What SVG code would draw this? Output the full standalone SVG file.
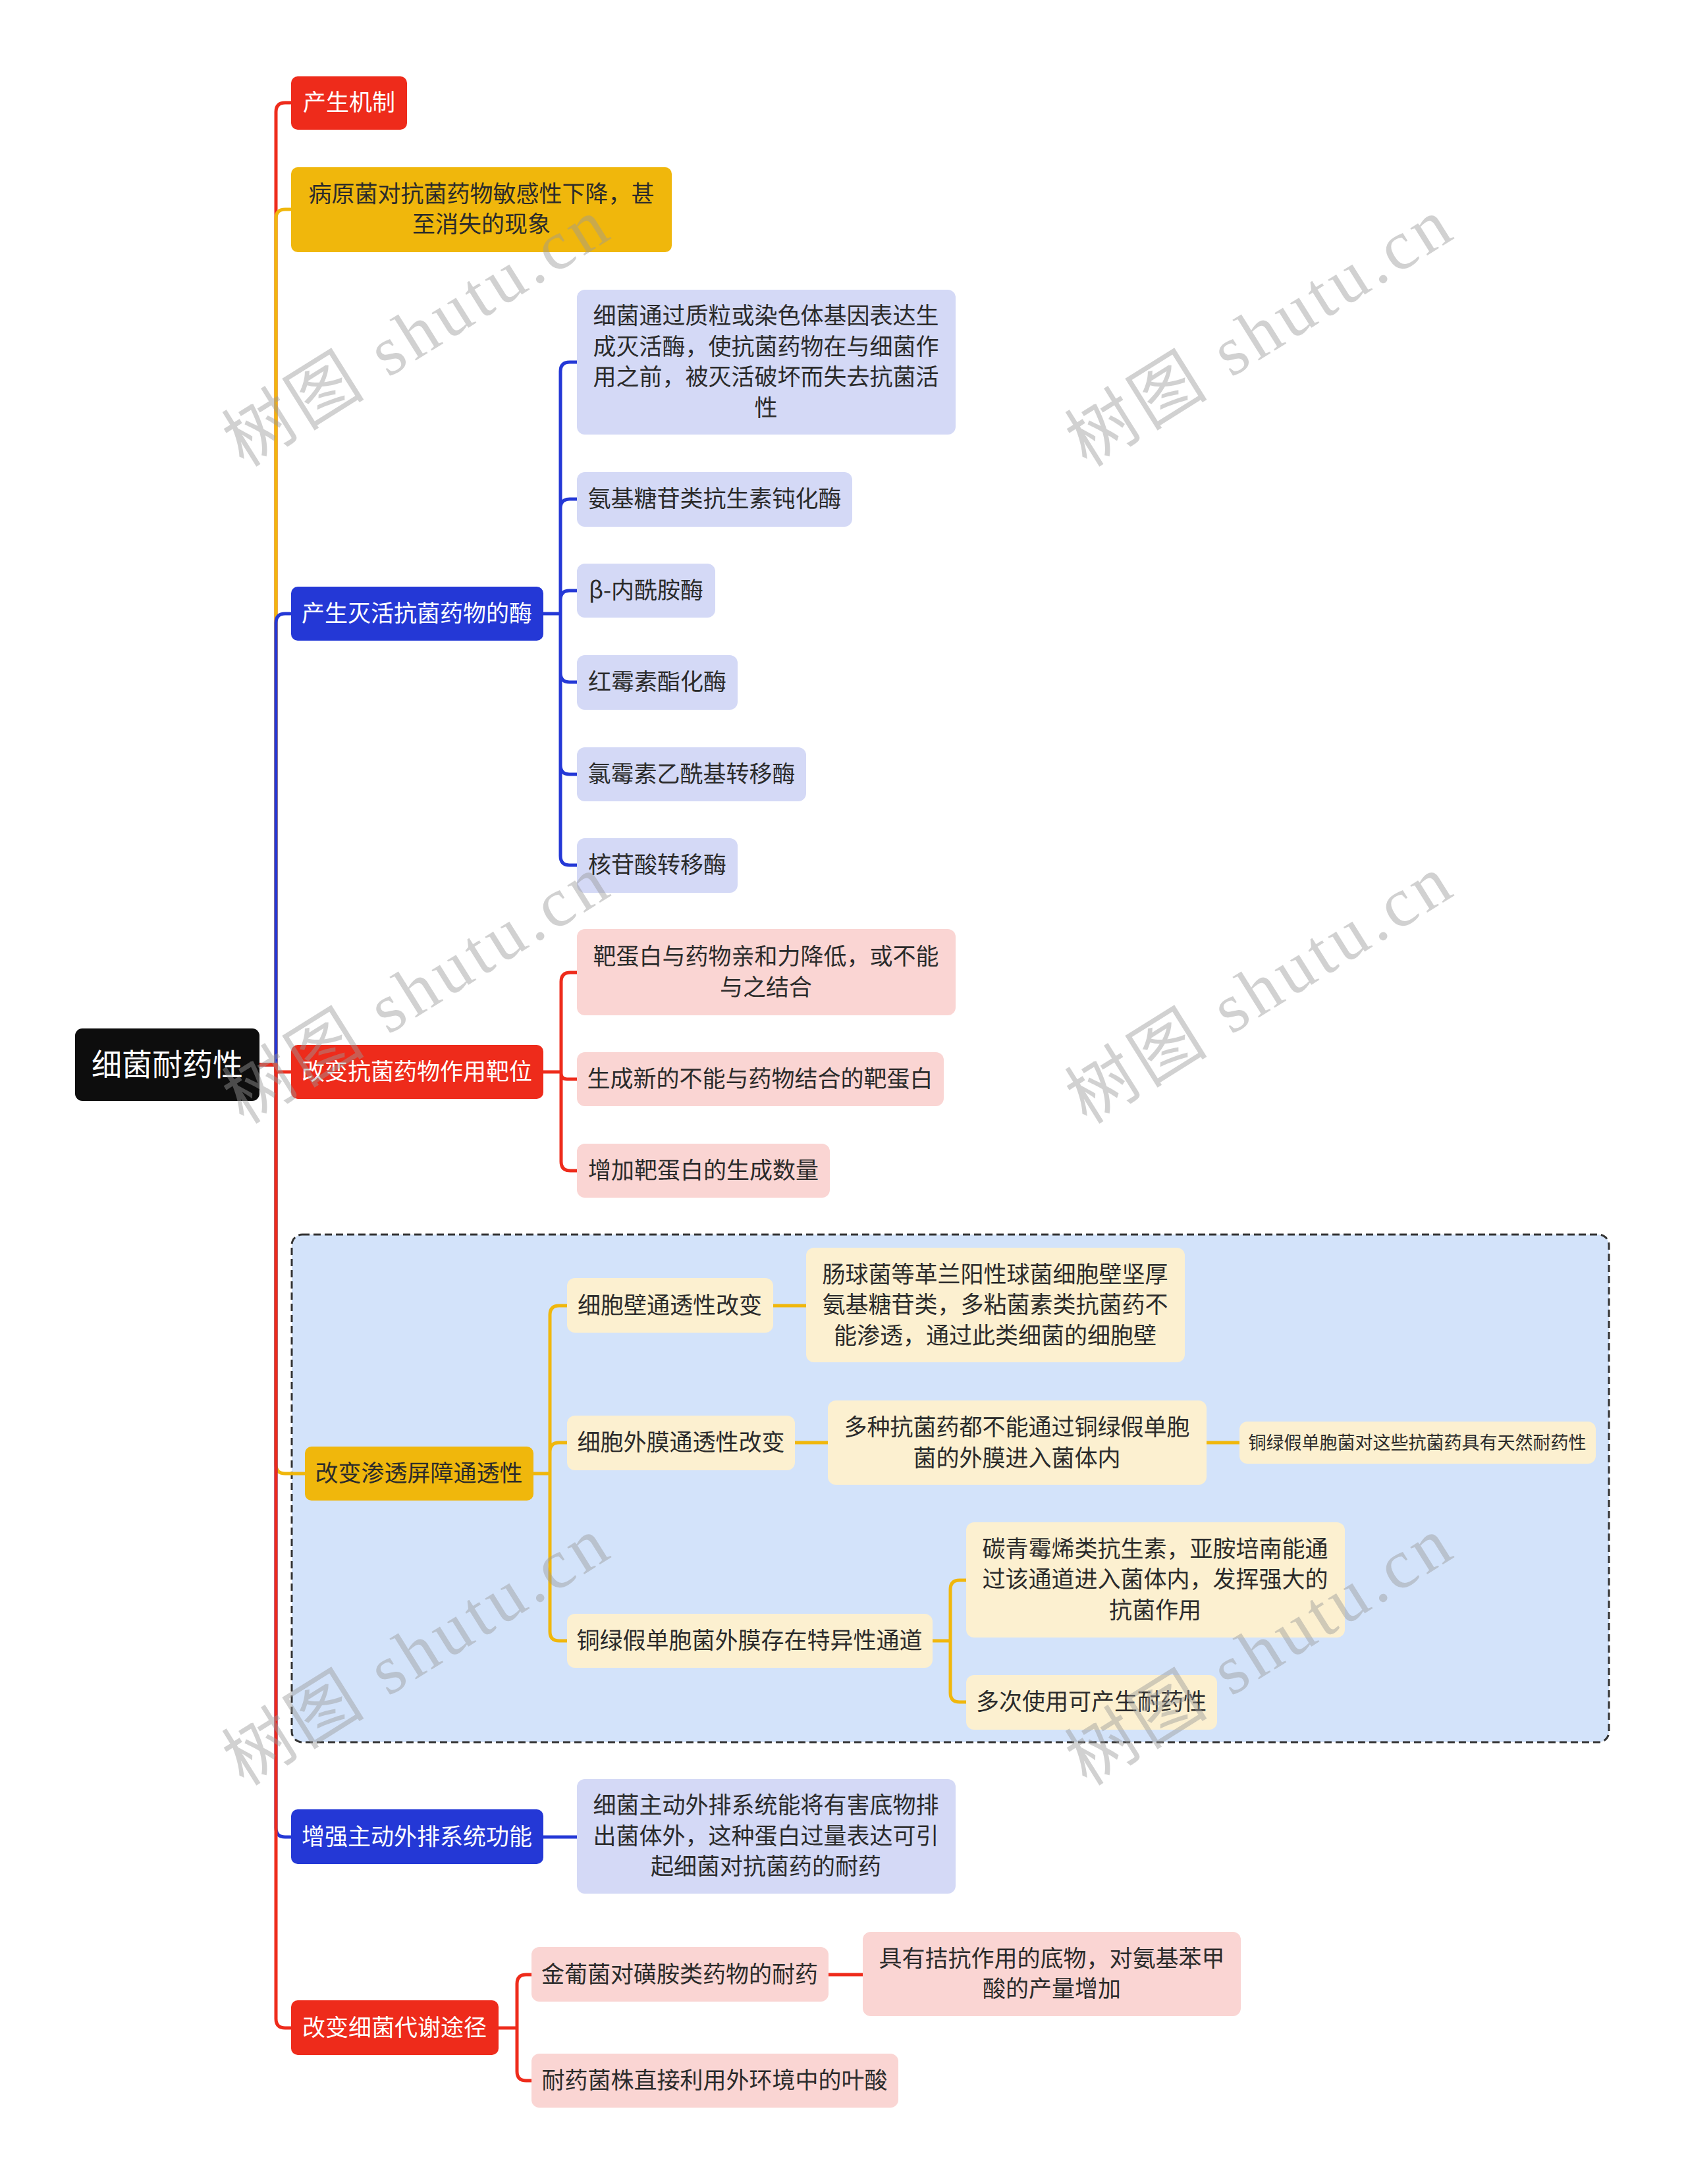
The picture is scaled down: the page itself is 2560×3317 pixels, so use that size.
<svg xmlns="http://www.w3.org/2000/svg" width="2560" height="3317" viewBox="0 0 2560 3317">
<style>
text{font-family:"Noto Sans CJK SC","Noto Sans",sans-serif;font-size:35px;text-anchor:middle}
.wt{fill:#ffffff}
.dk{fill:#2b2b2b}
.red{fill:#EE2B1B}
.blue{fill:#2438D6}
.yel{fill:#F0B70C}
.lav{fill:#D4D9F6}
.pink{fill:#FAD5D3}
.crm{fill:#FCF0D0}
.c{fill:none;stroke-width:5;stroke-linecap:round;stroke-linejoin:round}
.cr{stroke:#EE2B1B}
.cb{stroke:#2438D6}
.cy{stroke:#F0B70C}
.wm{font-family:"Liberation Serif","Noto Sans CJK SC",serif;font-size:106px;fill:#9a9a9a;fill-opacity:0.45}
</style>
<rect width="2560" height="3317" fill="#ffffff"/>
<rect id="boundary" x="443" y="1875" width="2000" height="771" rx="16" fill="#D3E3FA" stroke="#333" stroke-width="3" stroke-dasharray="11 6"/>
<g id="connectors">
<path class="c cr" d="M394,1617 H419 V170 Q419,156 433,156 H442"/>
<path class="c cy" d="M394,1617 H419 V332 Q419,318 433,318 H442"/>
<path class="c cb" d="M394,1617 H419 V946 Q419,932 433,932 H442"/>
<path class="c cy" d="M394,1617 H419 V2224 Q419,2238 433,2238 H463"/>
<path class="c cb" d="M394,1617 H419 V2776 Q419,2790 433,2790 H442"/>
<path class="c cr" d="M394,1617 H419 V1628 H442"/>
<path class="c cr" d="M394,1617 H419 V3066 Q419,3080 433,3080 H442"/>
<path class="c cb" d="M825,932 H851 M851,932 V564 Q851,550 865,550 H876 M851,932 V772 Q851,758 865,758 H876 M851,932 V911 Q851,897 865,897 H876 M851,932 V1022 Q851,1036 865,1036 H876 M851,932 V1162 Q851,1176 865,1176 H876 M851,932 V1300 Q851,1314 865,1314 H876"/>
<path class="c cr" d="M825,1628 H852 M852,1628 V1491 Q852,1477 866,1477 H876 M852,1628 V1630 Q852,1639 861,1639 H876 M852,1628 V1764 Q852,1778 866,1778 H876"/>
<path class="c cy" d="M810,2238 H835 M835,2238 V1997 Q835,1983 849,1983 H861 M835,2238 V2205 Q835,2191 849,2191 H861 M835,2238 V2478 Q835,2492 849,2492 H861 M1174,1983 H1224 M1207,2191 H1257 M1832,2191 H1882 M1416,2492 H1443 M1443,2492 V2414 Q1443,2400 1457,2400 H1467 M1443,2492 V2571 Q1443,2585 1457,2585 H1467"/>
<path class="c cb" d="M825,2790 H876"/>
<path class="c cr" d="M757,3080 H785 M785,3080 V3013 Q785,2999 799,2999 H807 M785,3080 V3146 Q785,3160 799,3160 H807 M1258,2999 H1310"/>
</g>
<g id="root"><rect x="114" y="1562" width="280" height="110" rx="11" fill="#0D0D0D"/><text class="wt" x="254" y="1633" style="font-size:46px">细菌耐药性</text></g>
<g id="n1"><rect class="red" x="442" y="116" width="176" height="81" rx="10"/><text class="wt" x="530" y="168">产生机制</text></g>
<g id="n2"><rect class="yel" x="442" y="254" width="578" height="129" rx="10"/><text class="dk" x="731" y="307">病原菌对抗菌药物敏感性下降，甚</text><text class="dk" x="731" y="353">至消失的现象</text></g>
<g id="n3"><rect class="blue" x="442" y="891" width="383" height="82" rx="10"/><text class="wt" x="633" y="944">产生灭活抗菌药物的酶</text></g>
<g id="n3a"><rect class="lav" x="876" y="440" width="575" height="220" rx="12"/><text class="dk" x="1163" y="492">细菌通过质粒或染色体基因表达生</text><text class="dk" x="1163" y="539">成灭活酶，使抗菌药物在与细菌作</text><text class="dk" x="1163" y="585">用之前，被灭活破坏而失去抗菌活</text><text class="dk" x="1163" y="632">性</text></g>
<g id="n3b"><rect class="lav" x="876" y="717" width="418" height="83" rx="12"/><text class="dk" x="1085" y="770">氨基糖苷类抗生素钝化酶</text></g>
<g id="n3c"><rect class="lav" x="876" y="856" width="210" height="82" rx="12"/><text class="dk" x="981" y="909">β-内酰胺酶</text></g>
<g id="n3d"><rect class="lav" x="876" y="995" width="244" height="83" rx="12"/><text class="dk" x="998" y="1048">红霉素酯化酶</text></g>
<g id="n3e"><rect class="lav" x="876" y="1135" width="348" height="82" rx="12"/><text class="dk" x="1050" y="1188">氯霉素乙酰基转移酶</text></g>
<g id="n3f"><rect class="lav" x="876" y="1273" width="244" height="83" rx="12"/><text class="dk" x="998" y="1326">核苷酸转移酶</text></g>
<g id="n4"><rect class="red" x="442" y="1587" width="383" height="82" rx="10"/><text class="wt" x="633" y="1640">改变抗菌药物作用靶位</text></g>
<g id="n4a"><rect class="pink" x="876" y="1411" width="575" height="131" rx="12"/><text class="dk" x="1163" y="1465">靶蛋白与药物亲和力降低，或不能</text><text class="dk" x="1163" y="1512">与之结合</text></g>
<g id="n4b"><rect class="pink" x="876" y="1598" width="557" height="82" rx="12"/><text class="dk" x="1154" y="1651">生成新的不能与药物结合的靶蛋白</text></g>
<g id="n4c"><rect class="pink" x="876" y="1737" width="384" height="82" rx="12"/><text class="dk" x="1068" y="1790">增加靶蛋白的生成数量</text></g>
<g id="n5"><rect class="yel" x="463" y="2197" width="347" height="82" rx="10"/><text class="dk" x="636" y="2250">改变渗透屏障通透性</text></g>
<g id="n5a"><rect class="crm" x="861" y="1941" width="313" height="83" rx="12"/><text class="dk" x="1017" y="1995">细胞壁通透性改变</text></g>
<g id="n5a1"><rect class="crm" x="1224" y="1895" width="575" height="174" rx="12"/><text class="dk" x="1511" y="1948">肠球菌等革兰阳性球菌细胞壁坚厚</text><text class="dk" x="1511" y="1994">氨基糖苷类，多粘菌素类抗菌药不</text><text class="dk" x="1511" y="2041">能渗透，通过此类细菌的细胞壁</text></g>
<g id="n5b"><rect class="crm" x="861" y="2150" width="346" height="83" rx="12"/><text class="dk" x="1034" y="2203">细胞外膜通透性改变</text></g>
<g id="n5b1"><rect class="crm" x="1257" y="2127" width="575" height="128" rx="12"/><text class="dk" x="1544" y="2180">多种抗菌药都不能通过铜绿假单胞</text><text class="dk" x="1544" y="2227">菌的外膜进入菌体内</text></g>
<g id="n5b2"><rect class="crm" x="1882" y="2159" width="541" height="64" rx="12"/><text class="dk" x="2152" y="2201" style="font-size:27px">铜绿假单胞菌对这些抗菌药具有天然耐药性</text></g>
<g id="n5c"><rect class="crm" x="861" y="2451" width="555" height="82" rx="12"/><text class="dk" x="1138" y="2504">铜绿假单胞菌外膜存在特异性通道</text></g>
<g id="n5c1"><rect class="crm" x="1467" y="2312" width="575" height="175" rx="12"/><text class="dk" x="1754" y="2365">碳青霉烯类抗生素，亚胺培南能通</text><text class="dk" x="1754" y="2411">过该通道进入菌体内，发挥强大的</text><text class="dk" x="1754" y="2458">抗菌作用</text></g>
<g id="n5c2"><rect class="crm" x="1467" y="2544" width="381" height="83" rx="12"/><text class="dk" x="1657" y="2597">多次使用可产生耐药性</text></g>
<g id="n6"><rect class="blue" x="442" y="2748" width="383" height="83" rx="10"/><text class="wt" x="633" y="2802">增强主动外排系统功能</text></g>
<g id="n6a"><rect class="lav" x="876" y="2702" width="575" height="174" rx="12"/><text class="dk" x="1163" y="2754">细菌主动外排系统能将有害底物排</text><text class="dk" x="1163" y="2801">出菌体外，这种蛋白过量表达可引</text><text class="dk" x="1163" y="2847">起细菌对抗菌药的耐药</text></g>
<g id="n7"><rect class="red" x="442" y="3038" width="315" height="83" rx="10"/><text class="wt" x="599" y="3092">改变细菌代谢途径</text></g>
<g id="n7a"><rect class="pink" x="807" y="2957" width="451" height="83" rx="12"/><text class="dk" x="1032" y="3011">金葡菌对磺胺类药物的耐药</text></g>
<g id="n7a1"><rect class="pink" x="1310" y="2934" width="574" height="128" rx="12"/><text class="dk" x="1597" y="2987">具有拮抗作用的底物，对氨基苯甲</text><text class="dk" x="1597" y="3033">酸的产量增加</text></g>
<g id="n7b"><rect class="pink" x="807" y="3119" width="557" height="82" rx="12"/><text class="dk" x="1085" y="3172">耐药菌株直接利用外环境中的叶酸</text></g>
<g id="watermarks">
<text class="wm" transform="translate(650,536) rotate(-32)" textLength="660" lengthAdjust="spacing">树图 shutu.cn</text>
<text class="wm" transform="translate(1930,536) rotate(-32)" textLength="660" lengthAdjust="spacing">树图 shutu.cn</text>
<text class="wm" transform="translate(650,1534) rotate(-32)" textLength="660" lengthAdjust="spacing">树图 shutu.cn</text>
<text class="wm" transform="translate(1930,1534) rotate(-32)" textLength="660" lengthAdjust="spacing">树图 shutu.cn</text>
<text class="wm" transform="translate(650,2539) rotate(-32)" textLength="660" lengthAdjust="spacing">树图 shutu.cn</text>
<text class="wm" transform="translate(1930,2539) rotate(-32)" textLength="660" lengthAdjust="spacing">树图 shutu.cn</text>
</g>
</svg>
